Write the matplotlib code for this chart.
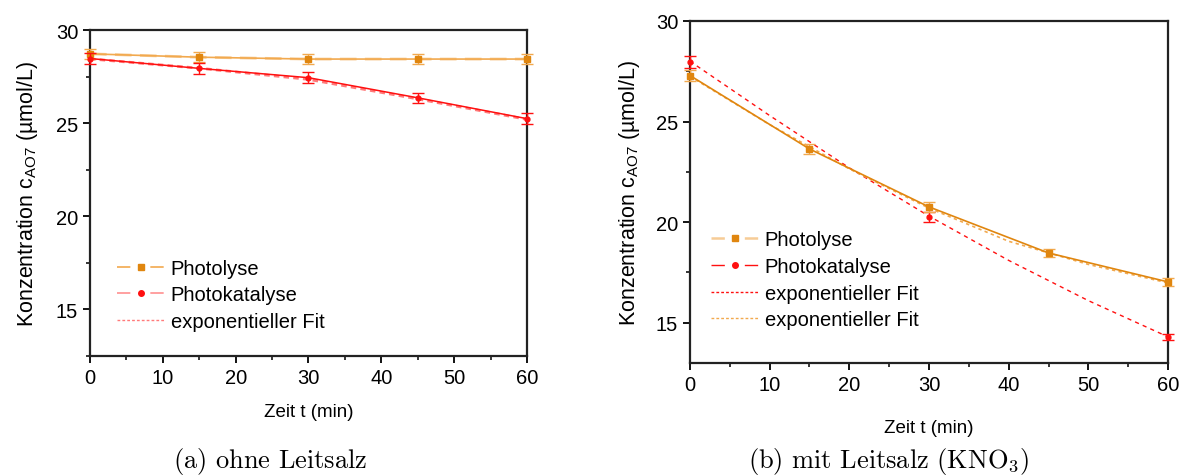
import numpy as np
import matplotlib.pyplot as plt
from matplotlib.lines import Line2D
from matplotlib.ticker import MultipleLocator

plt.rcParams['font.family'] = ['Liberation Sans', 'DejaVu Sans']
plt.rcParams['mathtext.fontset'] = 'custom'
plt.rcParams['mathtext.rm'] = 'cmr10'
plt.rcParams['mathtext.sf'] = 'Liberation Sans'

# Data
t = [0, 15, 30, 45, 60]

# (a) ohne Leitsalz
a_photolyse = [28.72, 28.54, 28.44, 28.44, 28.44]
a_photolyse_err = [0.28, 0.28, 0.28, 0.28, 0.28]
a_photokat = [28.47, 27.94, 27.44, 26.36, 25.24]
a_photokat_err = [0.3, 0.3, 0.3, 0.28, 0.28]
a_fit = [28.45, 27.95, 27.35, 26.3, 25.2]

# (b) mit Leitsalz (KNO3)
b_photolyse = [27.29, 23.64, 20.76, 18.47, 17.03]
b_photolyse_err = [0.28, 0.25, 0.25, 0.22, 0.2]
t_b_kat = [0, 30, 60]
b_photokat = [27.98, 20.27, 14.31]
b_photokat_err = [0.3, 0.25, 0.15]
t_fit = [0, 10, 20, 30, 40, 50, 60]
b_fit_kat = [28.0, 25.3, 22.7, 20.3, 18.1, 16.1, 14.3]
b_fit_pho = [27.25, 24.85, 22.65, 20.7, 19.05, 17.9, 16.98]

ORANGE = '#E0860F'
ORANGE_L = '#F2A94E'
ORANGE_LL = '#F7CC96'
RED = '#FF1010'
PINK = '#FF7A7A'

fig = plt.figure(figsize=(11.79, 4.77), dpi=100)
ax1 = fig.add_axes([0.0763, 0.2516, 0.3707, 0.6834])
ax2 = fig.add_axes([0.5852, 0.2369, 0.4055, 0.7170])


def style_axes(ax, ylo, xpad, ypad):
    ax.set_xlim(0, 60)
    ax.set_ylim(ylo, 30)
    ax.xaxis.set_major_locator(MultipleLocator(10))
    ax.xaxis.set_minor_locator(MultipleLocator(5))
    ax.yaxis.set_major_locator(MultipleLocator(5))
    ax.yaxis.set_minor_locator(MultipleLocator(2.5))
    ax.tick_params(which='major', direction='out', length=5, width=1.3, labelsize=14.5)
    ax.tick_params(which='minor', direction='out', length=3, width=1.1)
    for s in ax.spines.values():
        s.set_linewidth(1.6)
        s.set_color('#222222')
    ax.set_xlabel('Zeit t (min)', fontsize=13.5, labelpad=xpad)
    ax.set_ylabel(r'Konzentration c$_{\mathsf{AO7}}$ (µmol/L)', fontsize=15.5,
                  labelpad=ypad)


def legend_handle(lcolor, mcolor, marker, lw=1.2):
    line = Line2D([], [], color=lcolor, lw=lw, ls=(0, (8.0 * 1.2 / lw, 12.0 * 1.2 / lw)))
    mark = Line2D([], [], ls='none', marker=marker, ms=4, color=mcolor)
    return (line, mark)


leg_kw = dict(loc='lower left', frameon=False, fontsize=14.5, handlelength=2.35,
              handletextpad=0.3, labelspacing=0.38, borderpad=0.2)

# ---- (a)
ax1.plot(t, a_photolyse, color=ORANGE_LL, lw=2, ls=(0, (6, 3)), zorder=2)
ax1.plot(t, a_photolyse, color=ORANGE_L, lw=1.2, zorder=3)
ax1.errorbar(t, a_photolyse, yerr=a_photolyse_err, fmt='s', ms=4, color=ORANGE,
             ecolor=ORANGE_L, elinewidth=1, capsize=4, zorder=4, clip_on=False)
ax1.plot(t, a_fit, color=PINK, lw=2, ls=(0, (2, 1.5)), zorder=3)
ax1.plot(t, a_photokat, color=RED, lw=1.1, zorder=4)
ax1.errorbar(t, a_photokat, yerr=a_photokat_err, fmt='o', ms=3.5, color=RED,
             ecolor=RED, elinewidth=1, capsize=4, zorder=5, clip_on=False)
style_axes(ax1, 12.5, 12, 11)

h1 = [legend_handle(ORANGE_L, ORANGE, 's'),
      legend_handle('#FF9090', RED, 'o'),
      Line2D([], [], color=PINK, lw=1, ls=(0, (2, 1.5)))]
ax1.legend(h1, ['Photolyse', 'Photokatalyse', 'exponentieller Fit'],
           bbox_to_anchor=(0.03, 0.033), **leg_kw)

# ---- (b)
ax2.plot(t_fit, b_fit_kat, color=RED, lw=1, ls=(0, (3, 3)), zorder=3)
ax2.plot(t_fit, b_fit_pho, color=ORANGE_L, lw=1.2, ls=(0, (2, 2)), zorder=3)
ax2.plot(t, b_photolyse, color=ORANGE, lw=1.2, zorder=4)
ax2.errorbar(t, b_photolyse, yerr=b_photolyse_err, fmt='s', ms=4, color=ORANGE,
             ecolor=ORANGE_L, elinewidth=1, capsize=4, zorder=5, clip_on=False)
ax2.errorbar(t_b_kat, b_photokat, yerr=b_photokat_err, fmt='o', ms=3.5, color=RED,
             ecolor=RED, elinewidth=1, capsize=4, zorder=4, clip_on=False)
style_axes(ax2, 13, 18, 10)

h2 = [legend_handle(ORANGE_LL, ORANGE, 's', lw=1.8),
      legend_handle(RED, RED, 'o', lw=1),
      Line2D([], [], color=RED, lw=1, ls=(0, (2, 1.5))),
      Line2D([], [], color=ORANGE_L, lw=1, ls=(0, (2, 1.5)))]
ax2.legend(h2, ['Photolyse', 'Photokatalyse', 'exponentieller Fit',
                'exponentieller Fit'],
           bbox_to_anchor=(0.015, 0.057), **leg_kw)

# captions
fig.text(0.229, 0.018, r'$\mathrm{(a)\ ohne\ Leitsalz}$', ha='center',
         fontsize=19)
fig.text(0.754, 0.018, r'$\mathrm{(b)\ mit\ Leitsalz\ (KNO_3)}$', ha='center',
         fontsize=19)

fig.savefig('out.png', dpi=100)
